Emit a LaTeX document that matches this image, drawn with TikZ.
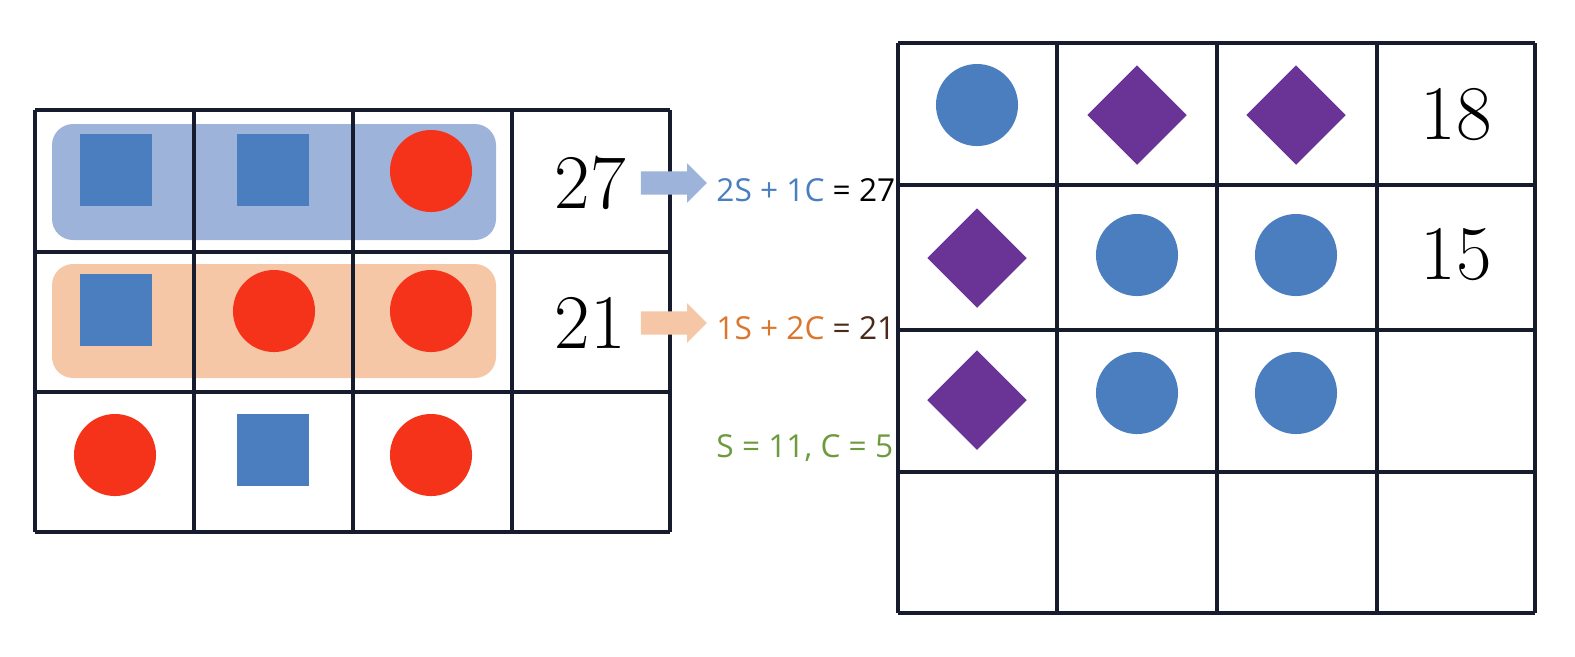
\documentclass[tikz,border=0pt]{standalone}
\usepackage{fontspec}
\newfontfamily\eqfont{Open Sans}
\usetikzlibrary{shapes.geometric,shapes.arrows}
\definecolor{sq}{HTML}{4A7EBF}
\definecolor{rd}{HTML}{F5331A}
\definecolor{pu}{HTML}{6A3396}
\definecolor{hb}{HTML}{9DB3DA}
\definecolor{ho}{HTML}{F6C7A6}
\definecolor{ob}{HTML}{D9772E}
\definecolor{br}{HTML}{4A2A1A}
\definecolor{gr}{HTML}{6E9A3E}
\definecolor{gl}{HTML}{161B2E}
\begin{document}
\begin{tikzpicture}[x=0.01cm,y=-0.01cm,
 grid/.style={draw=gl,line width=1.3pt},
 sqr/.style={fill=sq,minimum size=0.72cm,inner sep=0,draw=none},
 circ/.style={circle,fill=rd,minimum size=0.82cm,inner sep=0},
 bcirc/.style={circle,fill=sq,minimum size=0.82cm,inner sep=0},
 dia/.style={diamond,fill=pu,minimum size=1.0cm,inner sep=0,aspect=1},
 num/.style={font=\fontsize{22}{22}\selectfont},
 eq/.style={font=\eqfont\fontsize{9}{9}\selectfont},
 arr/.style={single arrow,minimum height=0.66cm,single arrow head extend=0.08cm,inner sep=0,draw=none}]
\useasboundingbox (0,0) rectangle (1575,656);
% highlights
\fill[hb,rounded corners=6pt] (52,124) rectangle (496,240);
\fill[ho,rounded corners=6pt] (52,264) rectangle (496,378);
% left grid
\foreach \x in {35,194,353,512,670} \draw[grid] (\x,110) -- (\x,532);
\foreach \y in {110,252,392,532} \draw[grid] (35,\y) -- (670,\y);
\node[sqr] (a1) at (116,170) {};
\node[sqr] (a2) at (273,170) {};
\node[circ] (a3) at (431,171) {};
\node[sqr] (b1) at (116,310) {};
\node[circ] (b2) at (274,311) {};
\node[circ] (b3) at (431,311) {};
\node[circ] (c1) at (115,455) {};
\node[sqr] (c2) at (273,450) {};
\node[circ] (c3) at (431,455) {};
\node[num] (n27) at (590,183) {27};
\node[num] (n21) at (590,323) {21};
\node[arr,fill=hb] (ar1) at (668,183) {\rule{0pt}{0.22cm}};
\node[arr,fill=ho] (ar2) at (668,323) {\rule{0pt}{0.22cm}};
\node[eq,anchor=west] (e1) at (704,190) {\textcolor{sq}{2S + 1C} = 27};
\node[eq,anchor=west] (e2) at (704,328) {\textcolor{ob}{1S + 2C} \textcolor{br}{= 21}};
\node[eq,anchor=west,text=gr] (e3) at (704,448) {S = 11, C = 5};
% right grid
\foreach \x in {898,1057,1217,1377,1535} \draw[grid] (\x,43) -- (\x,613);
\foreach \y in {43,185,330,472,613} \draw[grid] (898,\y) -- (1535,\y);
\node[bcirc] (r1) at (977,105) {};
\node[dia] (r2) at (1137,115) {};
\node[dia] (r3) at (1296,115) {};
\node[num] (n18) at (1456,115) {18};
\node[dia] (s1) at (977,258) {};
\node[bcirc] (s2) at (1137,255) {};
\node[bcirc] (s3) at (1296,255) {};
\node[num] (n15) at (1456,255) {15};
\node[dia] (t1) at (977,400) {};
\node[bcirc] (t2) at (1137,393) {};
\node[bcirc] (t3) at (1296,393) {};
\end{tikzpicture}
\end{document}
